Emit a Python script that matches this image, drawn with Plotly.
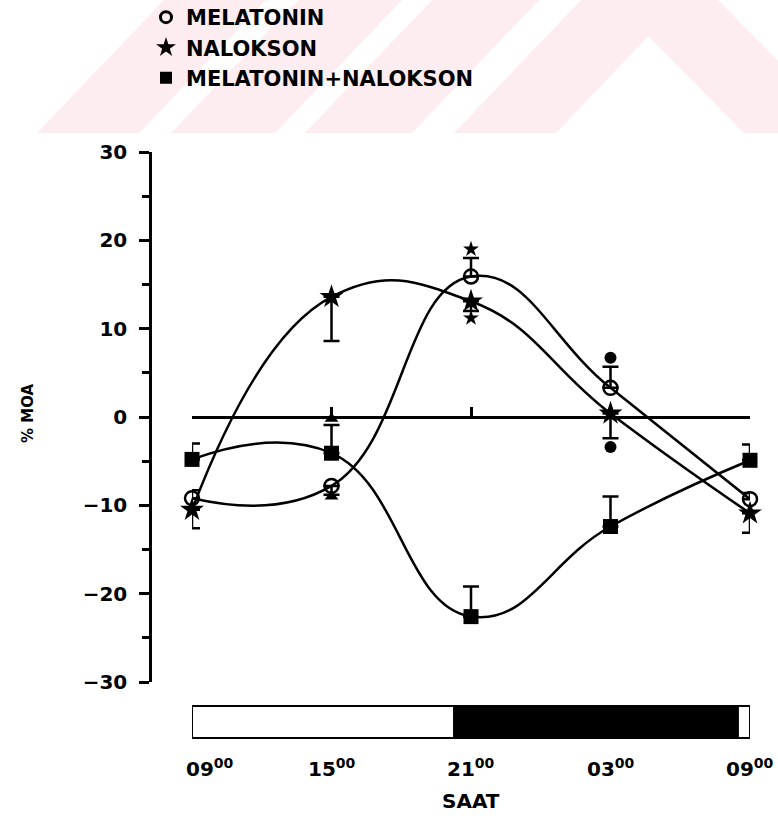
import plotly.graph_objects as go

# ---- data -------------------------------------------------------------
# sampling times, hours after 09:00
hours = [0, 6, 12, 18, 24]
time_labels = ["09<sup>00</sup>", "15<sup>00</sup>", "21<sup>00</sup>",
               "03<sup>00</sup>", "09<sup>00</sup>"]

melatonin = [-9.2, -7.8, 15.9, 3.3, -9.3]
melatonin_err_up = [0.9, 0.0, 2.1, 2.4, 0.7]
melatonin_err_down = [0.0, 1.0, 0.0, 0.0, 0.0]

nalokson = [-10.5, 13.6, 13.1, 0.4, -10.9]
nalokson_err_up = [0.0, 0.0, 0.0, 0.0, 0.0]
nalokson_err_down = [2.1, 5.0, 1.1, 2.8, 2.2]

combined = [-4.8, -4.1, -22.6, -12.4, -4.9]
combined_err_up = [1.8, 3.2, 3.4, 3.4, 1.8]
combined_err_down = [0.0, 0.0, 0.0, 0.0, 0.0]

# significance marks
sig_star_x, sig_star_y = [12, 12], [19.0, 11.2]
sig_dot_x, sig_dot_y = [18, 18], [6.7, -3.4]
sig_tri_x, sig_tri_y = [6, 6], [-0.2, -9.0]

# light / dark schedule (hours after 09:00)
lights_off = 11.25
lights_on = 23.5

# ---- page geometry ----------------------------------------------------
W, H = 778, 818


def px(x):
    return x / W


def py(y):
    return 1 - y / H


FONT = "DejaVu Sans"
BLACK = "black"

fig = go.Figure()

series = [
    ("MELATONIN", melatonin, melatonin_err_up, melatonin_err_down,
     dict(symbol="circle-open", size=14, color=BLACK, line=dict(width=2.5, color=BLACK)),
     dict(symbol="circle-open", size=11, color=BLACK, line=dict(width=3, color=BLACK))),
    ("NALOKSON", nalokson, nalokson_err_up, nalokson_err_down,
     dict(symbol="star", size=18, color=BLACK, line=dict(width=0)),
     dict(symbol="star", size=15, color=BLACK, line=dict(width=0))),
    ("MELATONIN+NALOKSON", combined, combined_err_up, combined_err_down,
     dict(symbol="square", size=15, color=BLACK, line=dict(width=0)),
     dict(symbol="square", size=12, color=BLACK, line=dict(width=0))),
]

for name, vals, up, down, mk, legend_mk in series:
    fig.add_trace(go.Scatter(
        x=hours, y=vals, mode="lines+markers", name=name,
        line=dict(color=BLACK, width=2.5, shape="spline", smoothing=1.3),
        marker=mk, cliponaxis=False, showlegend=False,
        error_y=dict(type="data", symmetric=False, array=up, arrayminus=down,
                     color=BLACK, thickness=2.5, width=8),
    ))
    # marker-only entry for the legend
    fig.add_trace(go.Scatter(x=[None], y=[None], mode="markers", name=name,
                             marker=legend_mk, showlegend=True))

for sx, sy, sym, size in [(sig_star_x, sig_star_y, "star", 12),
                          (sig_dot_x, sig_dot_y, "circle", 12),
                          (sig_tri_x, sig_tri_y, "triangle-up", 12)]:
    fig.add_trace(go.Scatter(x=sx, y=sy, mode="markers", showlegend=False,
                             marker=dict(symbol=sym, size=size, color=BLACK),
                             cliponaxis=False))

# ---- background stripes at the top of the page -------------------------
PINK = "rgb(253,237,241)"
stripe_paths = [
    [(37, 133), (139, 133), (266, 0), (164, 0)],
    [(171, 133), (275, 133), (402, 0), (298, 0)],
    [(305, 133), (412, 133), (539, 0), (432, 0)],
    [(454, 133), (556, 133), (683, 0), (581, 0)],
    [(744, 133), (850, 133), (718, 0), (613, 0)],
]
shapes = []
for pts in stripe_paths:
    path = "M " + " L ".join(f"{px(x):.4f},{py(y):.4f}" for x, y in pts) + " Z"
    shapes.append(dict(type="path", xref="paper", yref="paper", path=path,
                       fillcolor=PINK, line=dict(width=0), layer="below"))

# light / dark bar under the plot
bar_top, bar_bottom = py(706), py(738)
shapes.append(dict(type="rect", xref="x", yref="paper", x0=hours[0], x1=hours[-1],
                   y0=bar_bottom, y1=bar_top, fillcolor="white",
                   line=dict(color=BLACK, width=2)))
shapes.append(dict(type="rect", xref="x", yref="paper", x0=lights_off, x1=lights_on,
                   y0=bar_bottom, y1=bar_top, fillcolor=BLACK,
                   line=dict(color=BLACK, width=1)))

# ---- annotations -------------------------------------------------------
annotations = []
for i, (h, lab) in enumerate(zip(hours, time_labels)):
    annotations.append(dict(x=h, y=py(768), xref="x", yref="paper", text=lab,
                            showarrow=False, xanchor="center", yanchor="middle",
                            xshift=18 if i == 0 else 0,
                            font=dict(family=FONT, size=20, color=BLACK, weight="bold")))
annotations.append(dict(x=(hours[0] + hours[-1]) / 2, y=py(801), xref="x", yref="paper",
                        text="SAAT", showarrow=False, xanchor="center", yanchor="middle",
                        font=dict(family=FONT, size=20, color=BLACK, weight="bold")))
annotations.append(dict(x=px(28), y=py(413), xref="paper", yref="paper",
                        text="% MOA", textangle=-90, showarrow=False,
                        xanchor="center", yanchor="middle",
                        font=dict(family=FONT, size=15, color=BLACK, weight="bold")))

y_top, y_bottom = py(152), py(682)

fig.update_layout(
    width=W, height=H,
    margin=dict(l=0, r=0, t=0, b=0, autoexpand=False),
    paper_bgcolor="white", plot_bgcolor="rgba(0,0,0,0)",
    shapes=shapes, annotations=annotations,
    showlegend=True,
    legend=dict(x=px(146), y=py(-3), xanchor="left", yanchor="top",
                bgcolor="rgba(0,0,0,0)", borderwidth=0,
                font=dict(family=FONT, size=21, color=BLACK, weight="bold"),
                itemclick=False),
    xaxis=dict(domain=[px(192), px(750)], range=[hours[0], hours[-1]],
               anchor="free", position=(y_top + y_bottom) / 2,
               showline=True, linecolor=BLACK, linewidth=2.5,
               ticks="inside", ticklen=9, tickwidth=2.5, tickcolor=BLACK,
               tickvals=hours, showticklabels=False,
               showgrid=False, zeroline=False),
    yaxis=dict(domain=[y_bottom, y_top], range=[-30, 30],
               anchor="free", position=px(150),
               showline=True, linecolor=BLACK, linewidth=2.5,
               ticks="outside", ticklen=10, tickwidth=2.5, tickcolor=BLACK,
               tickvals=[-30, -20, -10, 0, 10, 20, 30],
               minor=dict(dtick=5, ticks="outside", ticklen=7, tickwidth=2.5,
                          tickcolor=BLACK, showgrid=False),
               ticklabelstandoff=8,
               tickfont=dict(family=FONT, size=20, color=BLACK, weight="bold"),
               showgrid=False, zeroline=False),
)

fig.write_html("out.html")
